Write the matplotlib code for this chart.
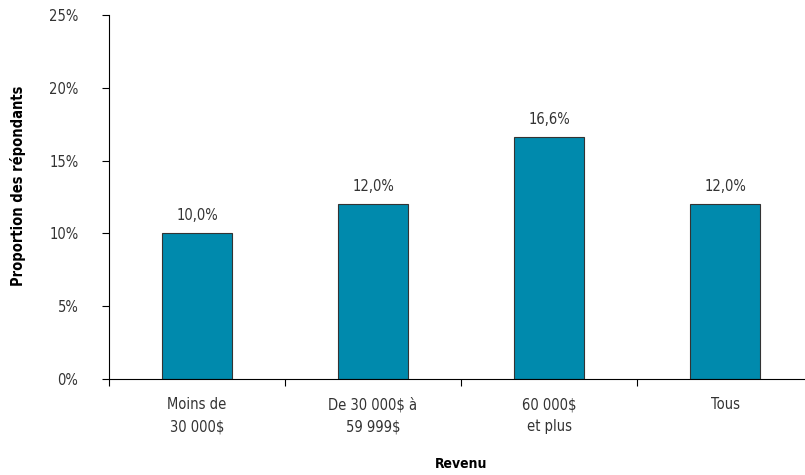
import matplotlib.pyplot as plt

categories = ["Moins de\n30 000$", "De 30 000$ à\n59 999$", "60 000$\net plus", "Tous"]
values = [10.0, 12.0, 16.6, 12.0]
yticks = [0, 5, 10, 15, 20, 25]

plt.rcParams['font.family'] = ['DejaVu Sans']
plt.rcParams['font.stretch'] = 'condensed'

fig = plt.figure(figsize=(8.05, 4.75), dpi=100)
ax = fig.add_axes([109 / 805, 1 - 379 / 475, 704 / 805, 364 / 475])

x = range(len(categories))
ax.bar(x, values, width=0.4, color="#008aad", edgecolor="#333333", linewidth=0.8)
for i, v in zip(x, values):
    ax.text(i, v + 0.7, f"{v:.1f}%".replace(".", ","), ha="center", va="bottom",
            fontsize=10.5, color="#333333")

ax.set_xlim(-0.5, 3.5)
ax.set_ylim(0, 25)
ax.set_yticks(yticks)
ax.set_yticklabels([f"{t}%" for t in yticks], fontsize=10.5, color="#333333")
ax.set_xticks([i - 0.5 for i in range(len(categories) + 1)])
ax.set_xticklabels([])
ax.set_xticks(list(x), minor=True)
ax.set_xticklabels(categories, minor=True, fontsize=10.5, color="#333333", linespacing=1.6)
ax.tick_params(axis="x", which="minor", length=0, pad=13)
ax.tick_params(axis="x", which="major", length=5, direction="out")
ax.tick_params(axis="y", length=5, direction="out", pad=17)

ax.spines["top"].set_visible(False)
ax.spines["right"].set_visible(False)

ax.set_ylabel("Proportion des répondants", fontsize=10.5, fontweight="bold")
ax.yaxis.set_label_coords(-0.118, 0.53)
ax.set_xlabel("Revenu", fontsize=10, fontweight="bold", labelpad=16)

fig.savefig("out.png", dpi=100)
